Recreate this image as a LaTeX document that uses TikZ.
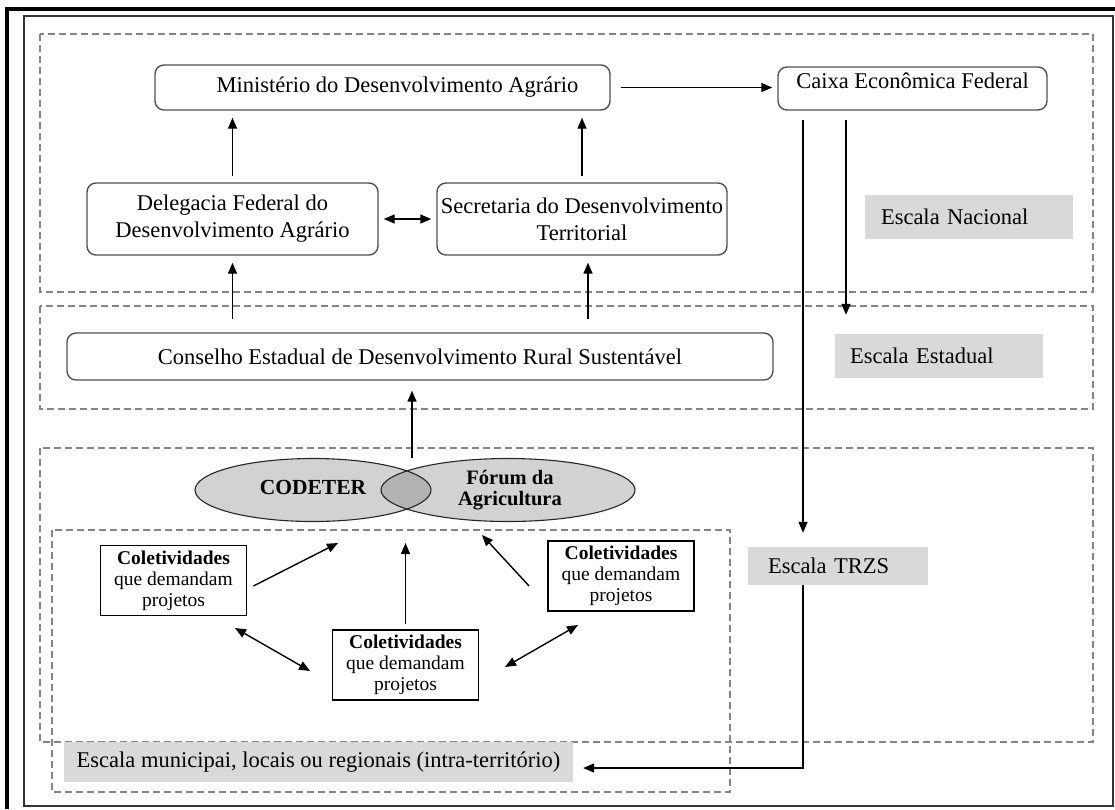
\documentclass[tikz,border=0pt]{standalone}
\usepackage{fontspec}
\setmainfont{Liberation Serif}
\usetikzlibrary{arrows.meta,shapes.geometric}

\definecolor{zonegray}{HTML}{858585}
\definecolor{labelgray}{HTML}{D9D9D9}
\definecolor{ovalgray}{HTML}{D2D2D2}
\definecolor{lensgray}{HTML}{B3B3B3}
\definecolor{boxline}{HTML}{505050}

\tikzset{
  zone/.style={draw=zonegray, line width=1.3pt, dash pattern=on 7pt off 4pt},
  box/.style={draw=boxline, line width=1.4pt, rounded corners=9pt, align=center, inner sep=0pt, font=\fontsize{22.5}{27}\selectfont},
  colbox/.style={draw=black, line width=1.8pt, align=center, inner sep=0pt, minimum width=146pt, minimum height=70pt, font=\fontsize{19.5}{21}\selectfont},
  escala/.style={fill=labelgray, inner ysep=0pt, align=left, font=\fontsize{22.5}{26}\selectfont},
  oval/.style={ellipse, draw=black!85, line width=1.1pt, inner sep=0pt, minimum height=63pt, align=center, font=\bfseries\fontsize{20.5}{21}\selectfont},
  arr/.style={-{Triangle[length=11pt,width=9pt]}, line width=1.4pt, shorten <=6pt, shorten >=7pt},
  darr/.style={{Triangle[length=11pt,width=9pt]}-{Triangle[length=11pt,width=9pt]}, line width=1.4pt},
}

\begin{document}
\begin{tikzpicture}[x=1pt,y=-1pt]
\useasboundingbox (0,0) rectangle (1115,809);

% Moldura
\draw[line width=3.5pt] (7,809) -- (7,9) -- (1115,9);
\draw[line width=1.5pt, draw=black!80] (24,16) rectangle (1113,806);

% Zonas tracejadas (escalas)
\draw[zone] (40,34) rectangle (1093,292);
\draw[zone] (40,306) rectangle (1093,409);
\draw[zone] (40,448) rectangle (1093,742);
\draw[zone] (52,530) rectangle (730,792);

% Escala nacional
\node[box, minimum width=455pt, minimum height=45pt] (min) at (382.5,87.5) {\hspace*{30pt}Ministério do Desenvolvimento Agrário};
\node[box, minimum width=269pt, minimum height=43pt, text depth=16pt] (caixa) at (912.5,88.5) {Caixa Econômica Federal};
\node[box, minimum width=291pt, minimum height=72pt] (del) at (232.5,219) {Delegacia Federal do\\Desenvolvimento Agrário};
\node[box, minimum width=290pt, minimum height=72pt] (sec) at (582,219) {Secretaria do Desenvolvimento\\Territorial};
\node[escala, inner xsep=16pt, text width=176pt, minimum height=44pt] (nac) at (969,217) {Escala Nacional};

% Escala estadual
\node[box, minimum width=706pt, minimum height=47pt] (cons) at (420,356.5) {Conselho Estadual de Desenvolvimento Rural Sustentável};
\node[escala, inner xsep=15pt, text width=178pt, minimum height=44pt] (est) at (939,356) {Escala Estadual};

% Escala TRZS: CODETER e Forum
\fill[ovalgray] (313,490) ellipse [x radius=118, y radius=31.5];
\fill[ovalgray] (508,490) ellipse [x radius=127, y radius=31.5];
\begin{scope}
  \clip (313,490) ellipse [x radius=118, y radius=31.5];
  \fill[lensgray] (508,490) ellipse [x radius=127, y radius=31.5];
\end{scope}
\node[oval, minimum width=236pt] (codeter) at (313,490) {};
\node[oval, minimum width=254pt] (forum) at (508,490) {};
\node[font=\bfseries\fontsize{21.5}{21}\selectfont] (codtxt) at (313,487) {CODETER};
\node[font=\bfseries\fontsize{20.5}{21}\selectfont, align=center] (fortxt) at (510,490) {Fórum da\\Agricultura};
\coordinate (lens) at (412,458);
\node[escala, inner xsep=20pt, text width=140pt, minimum height=38pt] (trzs) at (838,566) {Escala TRZS};

% Coletividades
\node[colbox] (colL) at (173.5,580.5) {\textbf{Coletividades}\\que demandam\\projetos};
\node[colbox] (colM) at (405.5,665) {\textbf{Coletividades}\\que demandam\\projetos};
\node[colbox] (colR) at (621,576) {\textbf{Coletividades}\\que demandam\\projetos};
\node[escala, inner xsep=0pt, minimum width=509pt, minimum height=40pt, align=center] (muni) at (318.5,762) {Escala municipai, locais ou regionais (intra-território)};

% Setas
\draw[arr] (del.north) -- (del.north |- min.south);
\draw[arr] (sec.north) -- (sec.north |- min.south);
\draw[arr, shorten <=10pt, shorten >=5pt] (min.east) -- (min.east -| caixa.west);
\draw[darr, shorten <=5pt, shorten >=5pt] (del.east) -- (sec.west);
\draw[arr, shorten <=13pt] (del.south |- cons.north) -- (del.south);
\draw[arr, shorten <=13pt] ([xshift=6pt]sec.south |- cons.north) -- ([xshift=6pt]sec.south);
\draw[arr, shorten <=0pt, shorten >=10pt] (lens) -- (lens |- cons.south);

% Caixa para as escalas
\coordinate (cx1) at (803,110);
\coordinate (cx2) at (846,110);
\draw[arr, shorten <=10pt, shorten >=14pt] (cx1) -- (cx1 |- trzs.north);
\draw[arr, shorten <=10pt, shorten >=19pt] (cx2) -- (cx2 |- est.north);
\draw[arr, shorten <=0pt, shorten >=10pt] (cx1 |- trzs.south) |- ([yshift=-6pt]muni.east);

% Setas entre coletividades
\coordinate (tipL) at (338,543);
\coordinate (tipM) at (408,543);
\coordinate (tipR) at (482,535);
\draw[arr, shorten >=0pt, shorten <=0pt] ([shift={(6,5.5)}]colL.east) -- (tipL);
\draw[arr, shorten >=0pt, shorten <=5pt] (colM.north) -- (colM.north |- tipM);
\draw[arr, shorten >=0pt, shorten <=0pt] ([shift={(-18,10)}]colR.west) -- (tipR);
\coordinate (a1) at (235,628);
\coordinate (a2) at (310,671);
\coordinate (b1) at (505,667);
\coordinate (b2) at (578,625);
\draw[darr] (a1) -- (a2);
\draw[darr] (b1) -- (b2);

\end{tikzpicture}
\end{document}
